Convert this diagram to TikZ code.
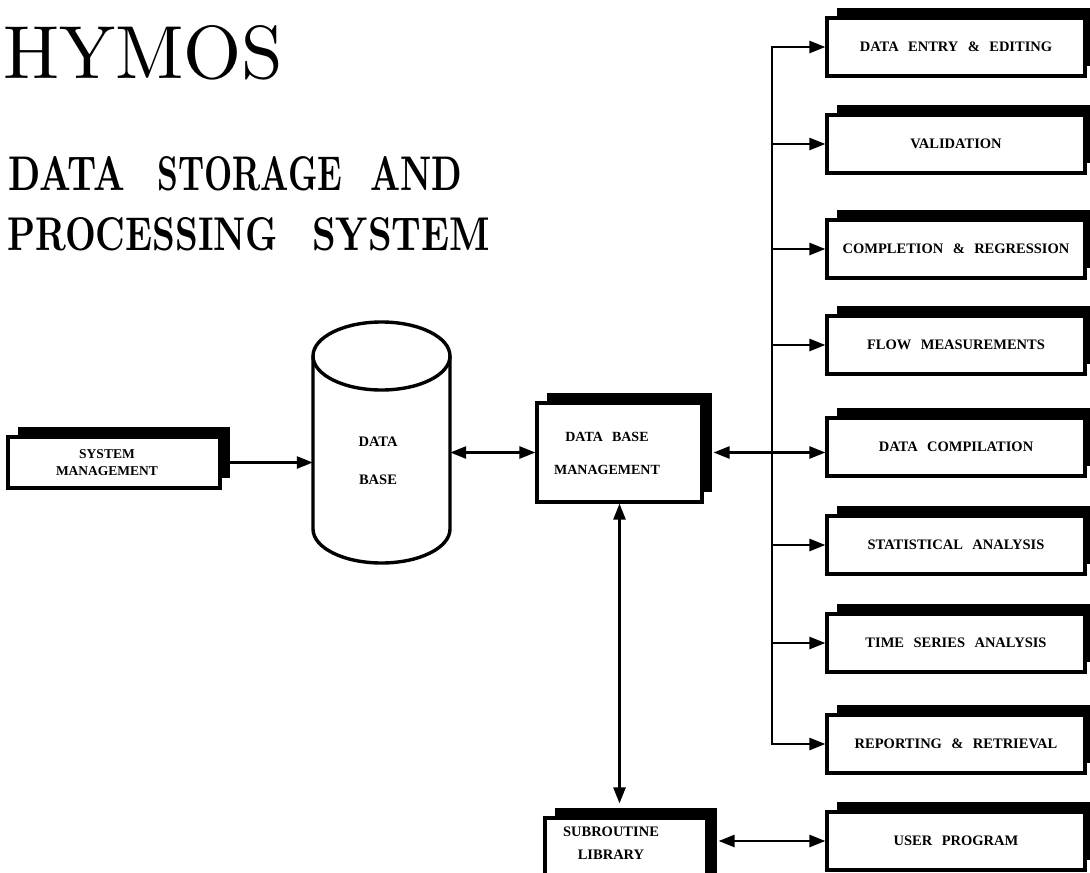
\documentclass[tikz,border=0pt]{standalone}
\usepackage{fontspec}
\newfontfamily\hyboxfont{Liberation Serif}
\usetikzlibrary{arrows.meta,shadows,calc}
\newcommand\hylbl{\hyboxfont\bfseries\fontsize{14.5}{17}\selectfont\spaceskip=0.65em\relax}
\begin{document}
\begin{tikzpicture}[x=1pt,y=-1pt,
  shbox/.style={draw, line width=3.2pt, fill=white, inner sep=0pt,
    drop shadow={shadow xshift=10pt, shadow yshift=10pt, fill=black, opacity=1}},
  rbox/.style={shbox, minimum width=258pt, minimum height=58pt, font=\hylbl},
  lbl/.style={inner sep=0pt, align=center},
  ttl/.style={anchor=base west, inner sep=0pt, font=\bfseries},
  conn/.style={line width=2.6pt},
  >={Triangle[length=16pt,width=12pt]}
]
\useasboundingbox (0,0) rectangle (1090,873);

% titles
\node[anchor=base west, inner sep=0pt] (hymos) at (3,78) {\resizebox{280pt}{53pt}{HYMOS}};
\node[ttl] (w1) at (8,190) {\resizebox{117pt}{34pt}{DATA}};
\node[ttl] (w2) at (157,190) {\resizebox{185pt}{34pt}{STORAGE}};
\node[ttl] (w3) at (370,190) {\resizebox{92pt}{34pt}{AND}};
\node[ttl] (w4) at (7,250) {\resizebox{271pt}{33pt}{PROCESSING}};
\node[ttl] (w5) at (312,250) {\resizebox{178pt}{33pt}{SYSTEM}};

% right column
\node[rbox] (b1) at (956,47) {DATA ENTRY \& EDITING};
\node[rbox] (b2) at (956,144) {VALIDATION};
\node[rbox] (b3) at (956,249) {COMPLETION \& REGRESSION};
\node[rbox] (b4) at (956,345) {FLOW MEASUREMENTS};
\node[rbox] (b5) at (956,447) {DATA COMPILATION};
\node[rbox] (b6) at (956,545) {STATISTICAL ANALYSIS};
\node[rbox] (b7) at (956,643) {TIME SERIES ANALYSIS};
\node[rbox] (b8) at (956,744) {REPORTING \& RETRIEVAL};
\node[rbox] (up) at (956,841) {USER PROGRAM};

% system management
\node[shbox, minimum width=212pt, minimum height=51pt] (sm) at (114,462.5) {};
\node[lbl, font={\hyboxfont\bfseries\fontsize{13.5}{17}\selectfont}] (smt) at (107,463) {SYSTEM\\MANAGEMENT};

% data base management
\node[shbox, minimum width=165pt, minimum height=99pt] (dbm) at (619.5,452.5) {};
\node[lbl, font={\hyboxfont\bfseries\fontsize{14}{33}\selectfont\spaceskip=0.65em\relax}] (dbmt) at (607,453) {DATA BASE\\MANAGEMENT};

% subroutine library
\node[shbox, minimum width=162pt, minimum height=80pt] (sub) at (626,858) {};
\node[lbl, font={\hyboxfont\bfseries\fontsize{14.5}{23}\selectfont}] (subt) at (611,843) {SUBROUTINE\\LIBRARY};

% data base cylinder
\node[inner sep=0pt, minimum width=137pt, minimum height=241pt] (db) at (381.5,442.5) {};
\draw[line width=3.4pt] (381.5,356) ellipse [x radius=68.5, y radius=34];
\draw[line width=3.4pt] (313,356) -- (313,529)
  arc[start angle=180, end angle=0, x radius=68.5, y radius=34] -- (450,356);
\node[lbl, font={\hyboxfont\bfseries\fontsize{14.5}{38}\selectfont}] (dbt) at (378,461) {DATA\\BASE};

% connectors
\coordinate (bus) at (772,0);
\draw[conn,->] (sm.east) -- (sm.east -| db.west);
\draw[conn,<->] (dbm.west -| db.east) -- (dbm.west);
\draw[conn,<->, shorten <=10pt] (dbm.east) -- (dbm.east -| b5.west);
\draw[conn,<->] (b1.west) -- (bus |- b1.west) -- (bus |- b8.west) -- (b8.west);
\foreach \b in {b2,b3,b4,b6,b7}
  \draw[conn,->] (bus |- \b.west) -- (\b.west);
\draw[conn,<->, shorten >=13pt] (dbm.south) -- (dbm.south |- sub.north);
\draw[conn,<->, shorten >=10pt] (up.west) -- (up.west -| sub.east);
\end{tikzpicture}
\end{document}
